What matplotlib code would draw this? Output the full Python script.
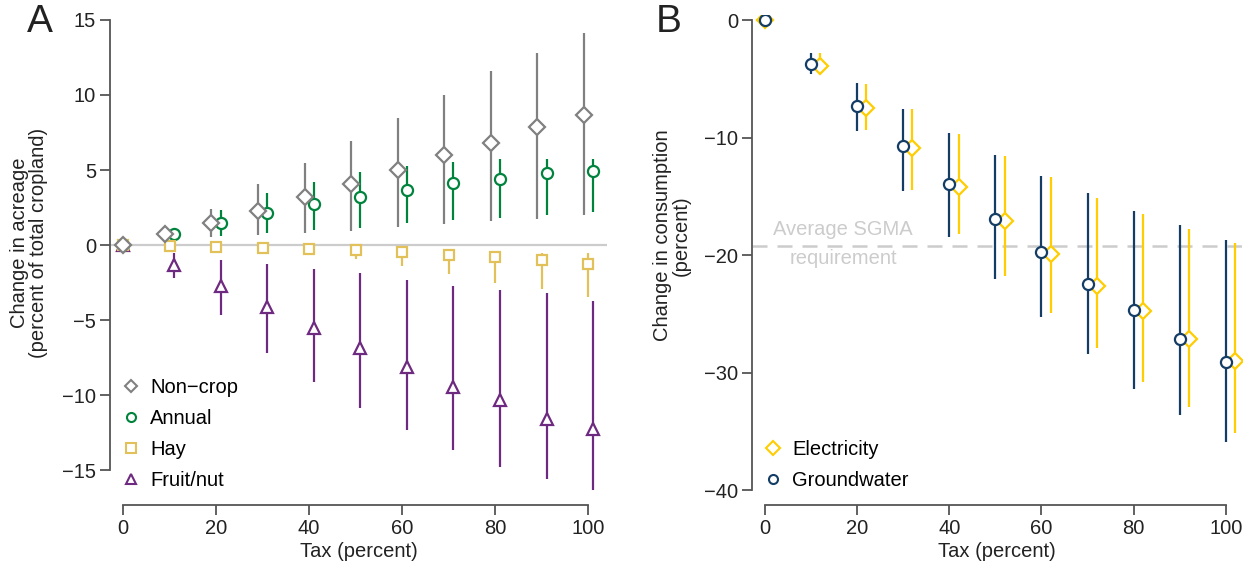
import numpy as np
import matplotlib.pyplot as plt
from matplotlib.lines import Line2D

plt.rcParams['font.family'] = ['Liberation Sans', 'DejaVu Sans']

## DATA
tax = [0, 10, 20, 30, 40, 50, 60, 70, 80, 90, 100]

# panel A: change in acreage (percent of total cropland)
noncrop = [0, 0.71, 1.47, 2.29, 3.2, 4.09, 4.98, 6.02, 6.82, 7.87, 8.67]
noncrop_lo = [0, 0.45, 0.53, 0.67, 0.82, 0.96, 1.2, 1.42, 1.6, 1.76, 2.02]
noncrop_hi = [0, 0.95, 2.38, 4.09, 5.49, 6.96, 8.44, 9.98, 11.62, 12.78, 14.11]

annual = [0, 0.73, 1.47, 2.11, 2.71, 3.22, 3.69, 4.16, 4.42, 4.78, 4.93]
annual_lo = [0, 0.5, 0.64, 0.82, 1.0, 1.16, 1.44, 1.67, 1.82, 1.98, 2.2]
annual_hi = [0, 1.0, 2.31, 3.49, 4.22, 4.84, 5.27, 5.56, 5.73, 5.76, 5.76]

hay = [0, -0.07, -0.11, -0.18, -0.24, -0.33, -0.47, -0.64, -0.8, -1.02, -1.29]
hay_lo = [0, -0.1, -0.2, -0.35, -0.5, -0.91, -1.36, -1.89, -2.55, -2.95, -3.47]
hay_hi = [0, -0.04, -0.05, -0.08, -0.1, -0.15, -0.2, -0.3, -0.47, -0.5, -0.55]

fruit = [0, -1.35, -2.73, -4.11, -5.55, -6.84, -8.11, -9.44, -10.33, -11.55, -12.24]
fruit_lo = [0, -2.18, -4.62, -7.18, -9.11, -10.84, -12.33, -13.62, -14.78, -15.58, -16.29]
fruit_hi = [0, -0.51, -1.02, -1.29, -1.58, -1.84, -2.33, -2.69, -3.0, -3.22, -3.73]

# panel B: change in consumption (percent)
ground = [0, -3.77, -7.31, -10.69, -13.95, -16.92, -19.7, -22.47, -24.69, -27.15, -29.05]
ground_lo = [0, -4.62, -9.44, -14.57, -18.43, -22.05, -25.28, -28.43, -31.35, -33.59, -35.86]
ground_hi = [0, -2.83, -5.36, -7.54, -9.61, -11.48, -13.27, -14.71, -16.24, -17.46, -18.71]

elec = [0, -3.91, -7.51, -10.91, -14.17, -17.12, -19.9, -22.62, -24.74, -27.15, -29.0]
elec_lo = [0, -4.48, -9.35, -14.46, -18.22, -21.77, -24.89, -27.92, -30.76, -32.88, -35.09]
elec_hi = [0, -2.83, -5.41, -7.6, -9.69, -11.54, -13.38, -15.14, -16.52, -17.8, -18.99]

sgma = -19.2

GRAY = '#808080'
GREEN = '#00843D'
HAY = '#E2C15A'
PURPLE = '#6E2A80'
GOLD = '#FFCD00'
NAVY = '#143D66'
SPINE = '#555555'
TXT = '#222222'
FS = 14.5


def err(vals, lo, hi):
    v = np.array(vals)
    return [v - np.array(lo), np.array(hi) - v]


def plot_series(ax, dx, vals, lo, hi, color, marker, ms, label):
    # dodge every point except the shared origin
    x = np.array(tax, dtype=float)
    x[x > 0] += dx
    ax.errorbar(x, vals, yerr=err(vals, lo, hi), fmt=marker, color=color,
                ms=ms, mfc='white', mec=color, mew=1.6, elinewidth=1.6,
                capsize=0, label=label, zorder=3)


def style_axes(ax):
    for s in ['top', 'right']:
        ax.spines[s].set_visible(False)
    for s in ['left', 'bottom']:
        ax.spines[s].set_color(SPINE)
        ax.spines[s].set_linewidth(1.3)
    ax.tick_params(direction='out', length=7, width=1.3, color=SPINE,
                   labelsize=FS, labelcolor=TXT, pad=3)
    ax.set_xticks([0, 20, 40, 60, 80, 100])
    ax.spines['bottom'].set_bounds(0, 100)
    ax.set_xlabel('Tax (percent)', fontsize=FS, color=TXT, labelpad=3)


fig = plt.figure(figsize=(12.5, 5.68), dpi=100)

## PANEL A
axA = fig.add_axes([0.088, 0.111, 0.3976, 0.862])
axA.axhline(0, color='#cccccc', lw=1.6, zorder=1)
plot_series(axA, 1, fruit, fruit_lo, fruit_hi, PURPLE, '^', 8.5, 'Fruit/nut')
plot_series(axA, 1, annual, annual_lo, annual_hi, GREEN, 'o', 8, 'Annual')
plot_series(axA, 0, hay, hay_lo, hay_hi, HAY, 's', 7.5, 'Hay')
plot_series(axA, -1, noncrop, noncrop_lo, noncrop_hi, GRAY, 'D', 8, 'Non\u2212crop')
axA.set_xlim(-2.8, 104)
axA.set_ylim(-17.3, 15.3)
axA.set_yticks([-15, -10, -5, 0, 5, 10, 15])
axA.set_yticklabels(['\u221215', '\u221210', '\u22125', '0', '5', '10', '15'])
style_axes(axA)
axA.spines['left'].set_bounds(-15, 15)
axA.set_ylabel('Change in acreage\n(percent of total cropland)', fontsize=FS,
               color=TXT, linespacing=1.0)
axA.yaxis.set_label_coords(-0.124, 0.535)

handlesA = [Line2D([], [], ls='', marker='D', ms=6.5, mfc='white', mec=GRAY, mew=1.5),
            Line2D([], [], ls='', marker='o', ms=6.5, mfc='white', mec=GREEN, mew=1.5),
            Line2D([], [], ls='', marker='s', ms=6.5, mfc='white', mec=HAY, mew=1.5),
            Line2D([], [], ls='', marker='^', ms=6.5, mfc='white', mec=PURPLE, mew=1.5)]
axA.legend(handlesA, ['Non\u2212crop', 'Annual', 'Hay', 'Fruit/nut'],
           loc='lower left', bbox_to_anchor=(-0.006, 0.002), frameon=False,
           fontsize=FS, handlelength=1.0, handletextpad=0.45, labelspacing=0.6,
           borderaxespad=0.3)

fig.text(0.032, 0.962, 'A', fontsize=28, va='center', ha='center', color=TXT)

## PANEL B
axB = fig.add_axes([0.6016, 0.111, 0.392, 0.862])
axB.axhline(sgma, color='#cccccc', lw=1.8, dashes=(6, 4), zorder=1)
axB.text(17, -17.8, 'Average SGMA', fontsize=FS, color='#cccccc', ha='center', va='center')
axB.text(17, -20.3, 'requirement', fontsize=FS, color='#cccccc', ha='center', va='center')
plot_series(axB, 2, elec, elec_lo, elec_hi, GOLD, 'D', 8.5, 'Electricity')
plot_series(axB, 0, ground, ground_lo, ground_hi, NAVY, 'o', 8, 'Groundwater')
axB.set_xlim(-2.8, 103.5)
axB.set_ylim(-41.25, 0.4)
axB.set_yticks([-40, -30, -20, -10, 0])
axB.set_yticklabels(['\u221240', '\u221230', '\u221220', '\u221210', '0'])
style_axes(axB)
axB.spines['left'].set_bounds(-40, 0)
axB.set_ylabel('Change in consumption\n(percent)', fontsize=FS,
               color=TXT, linespacing=1.0)
axB.yaxis.set_label_coords(-0.125, 0.55)

handlesB = [Line2D([], [], ls='', marker='D', ms=7.5, mfc='white', mec=GOLD, mew=1.5),
            Line2D([], [], ls='', marker='o', ms=6.5, mfc='white', mec=NAVY, mew=1.5)]
axB.legend(handlesB, ['Electricity', 'Groundwater'],
           loc='lower left', bbox_to_anchor=(-0.006, 0.002), frameon=False,
           fontsize=FS, handlelength=1.0, handletextpad=0.45, labelspacing=0.6,
           borderaxespad=0.3)

fig.text(0.535, 0.962, 'B', fontsize=28, va='center', ha='center', color=TXT)

fig.savefig('out.png', dpi=100)
